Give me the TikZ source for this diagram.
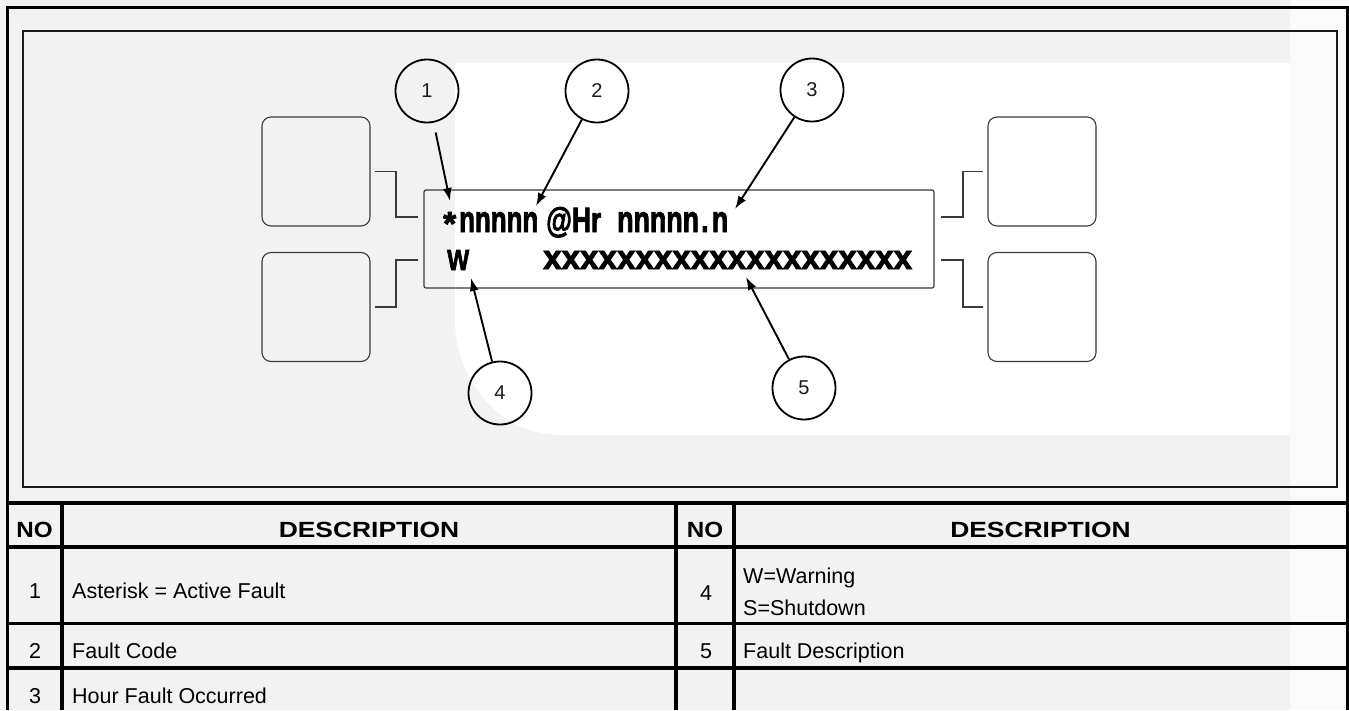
\documentclass[tikz,border=0pt]{standalone}
\usepackage{fontspec}
\setmainfont{Liberation Sans}
\newfontfamily\dispfont[FakeBold=2.5]{Liberation Sans Bold}
\usetikzlibrary{arrows.meta}
\definecolor{bg}{HTML}{F2F2F2}
\definecolor{ink}{HTML}{1A1A1A}
\definecolor{wirecol}{HTML}{3A3A3A}
\begin{document}
\begin{tikzpicture}[x=1pt,y=-1pt,
  outer/.style={line width=3pt, draw=black},
  tline/.style={line width=3.2pt, draw=black},
  innerframe/.style={line width=2.6pt, draw=ink},
  rbox/.style={draw=wirecol, line width=1.1pt, rounded corners=9pt, minimum width=108pt, minimum height=109pt, inner sep=0pt},
  dispbox/.style={draw=wirecol, line width=1.2pt, rounded corners=2pt, minimum width=510pt, minimum height=98pt, inner sep=0pt},
  wire/.style={draw=wirecol, line width=1.1pt},
  num/.style={circle, draw=black, line width=1.8pt, minimum size=63pt, inner sep=0pt, text=ink, font=\fontsize{20}{20}\selectfont},
  arr/.style={line width=1.9pt, draw=black, -{Latex[length=13pt,width=9pt]}},
  hdr/.style={anchor=base, inner sep=0pt, font=\bfseries\fontsize{22}{22}\selectfont},
  cell/.style={anchor=base west, inner sep=0pt, font=\fontsize{21.5}{26}\selectfont},
  cellnum/.style={anchor=base, inner sep=0pt, font=\fontsize{21.5}{26}\selectfont},
  disp/.style={anchor=base west, inner sep=0pt, text=black, font=\dispfont\fontsize{24}{24}\selectfont}
]
\useasboundingbox (0,0) rectangle (1349,710);
% background and faint watermark
\fill[bg] (0,0) rectangle (1349,710);
\fill[white!65!bg] (1290,0) rectangle (1349,710);
\fill[white] (455,63) -- (1290,63) -- (1290,435) -- (560,435) .. controls (500,435) and (455,380) .. (455,320) -- cycle;

% outer frame and inner frame
\draw[outer] (7,710) -- (7,7) -- (1347,7) -- (1347,710);
\draw[innerframe] (23,31) rectangle (1337,487);

% display and side boxes
\node[dispbox] (disp) at (679,239) {};
\node[rbox] (lu) at (316,171.5) {};
\node[rbox] (ll) at (316,307) {};
\node[rbox] (ru) at (1042,171.5) {};
\node[rbox] (rl) at (1042,307) {};

\coordinate (wlu) at (418,217);
\coordinate (wll) at (418,260);
\coordinate (wru) at (941,217);
\coordinate (wrl) at (941,260);
\draw[wire] ([xshift=4pt]lu.east) -- (396,171.5) -- (396,217) -- (wlu);
\draw[wire] ([xshift=4pt]ll.east) -- (396,307) -- (396,260) -- (wll);
\draw[wire] ([xshift=-4pt]ru.west) -- (963,171.5) -- (963,217) -- (wru);
\draw[wire] ([xshift=-4pt]rl.west) -- (963,307) -- (963,260) -- (wrl);

% display text
\node[disp] (ast) at (443,235) {\resizebox{13pt}{!}{*}};
\node[disp] (r1a) at (459,232) {\resizebox{79pt}{20pt}{nnnnn}};
\node[disp] (r1b) at (546,232) {\resizebox{55pt}{25pt}{@Hr}};
\node[disp] (r1c) at (617,232) {\resizebox{111pt}{20pt}{nnnnn\kern0.08em.\kern0.12em n}};
\node[disp] (r2a) at (447,270) {\resizebox{22pt}{20pt}{W}};
\node[disp] (r2b) at (543,269) {\resizebox{369pt}{18pt}{xxxxxxxxxxxxxxxxxxxx}};

% callout circles
\node[num] (c1) at (427,91) {1};
\node[num] (c2) at (597,91) {2};
\node[num] (c3) at (812,90) {3};
\node[num] (c4) at (500,393) {4};
\node[num] (c5) at (804,388) {5};

\coordinate (t1) at (450,201);
\coordinate (t2) at (536,206);
\coordinate (t3) at (735,209);
\coordinate (t4) at (471,278);
\coordinate (t5) at (746,277);
\draw[arr, shorten <=10pt] (c1) -- (t1);
\draw[arr] (c2) -- (t2);
\draw[arr] (c3) -- (t3);
\draw[arr] (c4) -- (t4);
\draw[arr] (c5) -- (t5);

% table grid
\draw[tline] (7,503) -- (1347,503);
\draw[tline] (7,547) -- (1347,547);
\draw[tline] (7,623.5) -- (1347,623.5);
\draw[tline] (7,668) -- (1347,668);
\draw[tline] (62,503) -- (62,710);
\draw[tline] (676,503) -- (676,710);
\draw[tline] (734,503) -- (734,710);

% table text
\node[hdr] (hno1) at (34.5,537) {\scalebox{1.1}[1]{NO}};
\node[hdr] (hds1) at (369,537) {\scalebox{1.2}[1]{DESCRIPTION}};
\node[hdr] (hno2) at (705,537) {\scalebox{1.1}[1]{NO}};
\node[hdr] (hds2) at (1040.5,537) {\scalebox{1.2}[1]{DESCRIPTION}};

\node[cellnum] (n1) at (35,598) {1};
\node[cell] (d1) at (72,598) {Asterisk = Active Fault};
\node[cellnum] (n2) at (35,658) {2};
\node[cell] (d2) at (72,658) {Fault Code};
\node[cellnum] (n3) at (35,703) {3};
\node[cell] (d3) at (72,703) {Hour Fault Occurred};
\node[cellnum] (n4) at (706,600) {4};
\node[cell] (d4a) at (743,583) {W=Warning};
\node[cell] (d4b) at (743,615) {S=Shutdown};
\node[cellnum] (n5) at (706,658) {5};
\node[cell] (d5) at (743,658) {Fault Description};
\end{tikzpicture}
\end{document}
